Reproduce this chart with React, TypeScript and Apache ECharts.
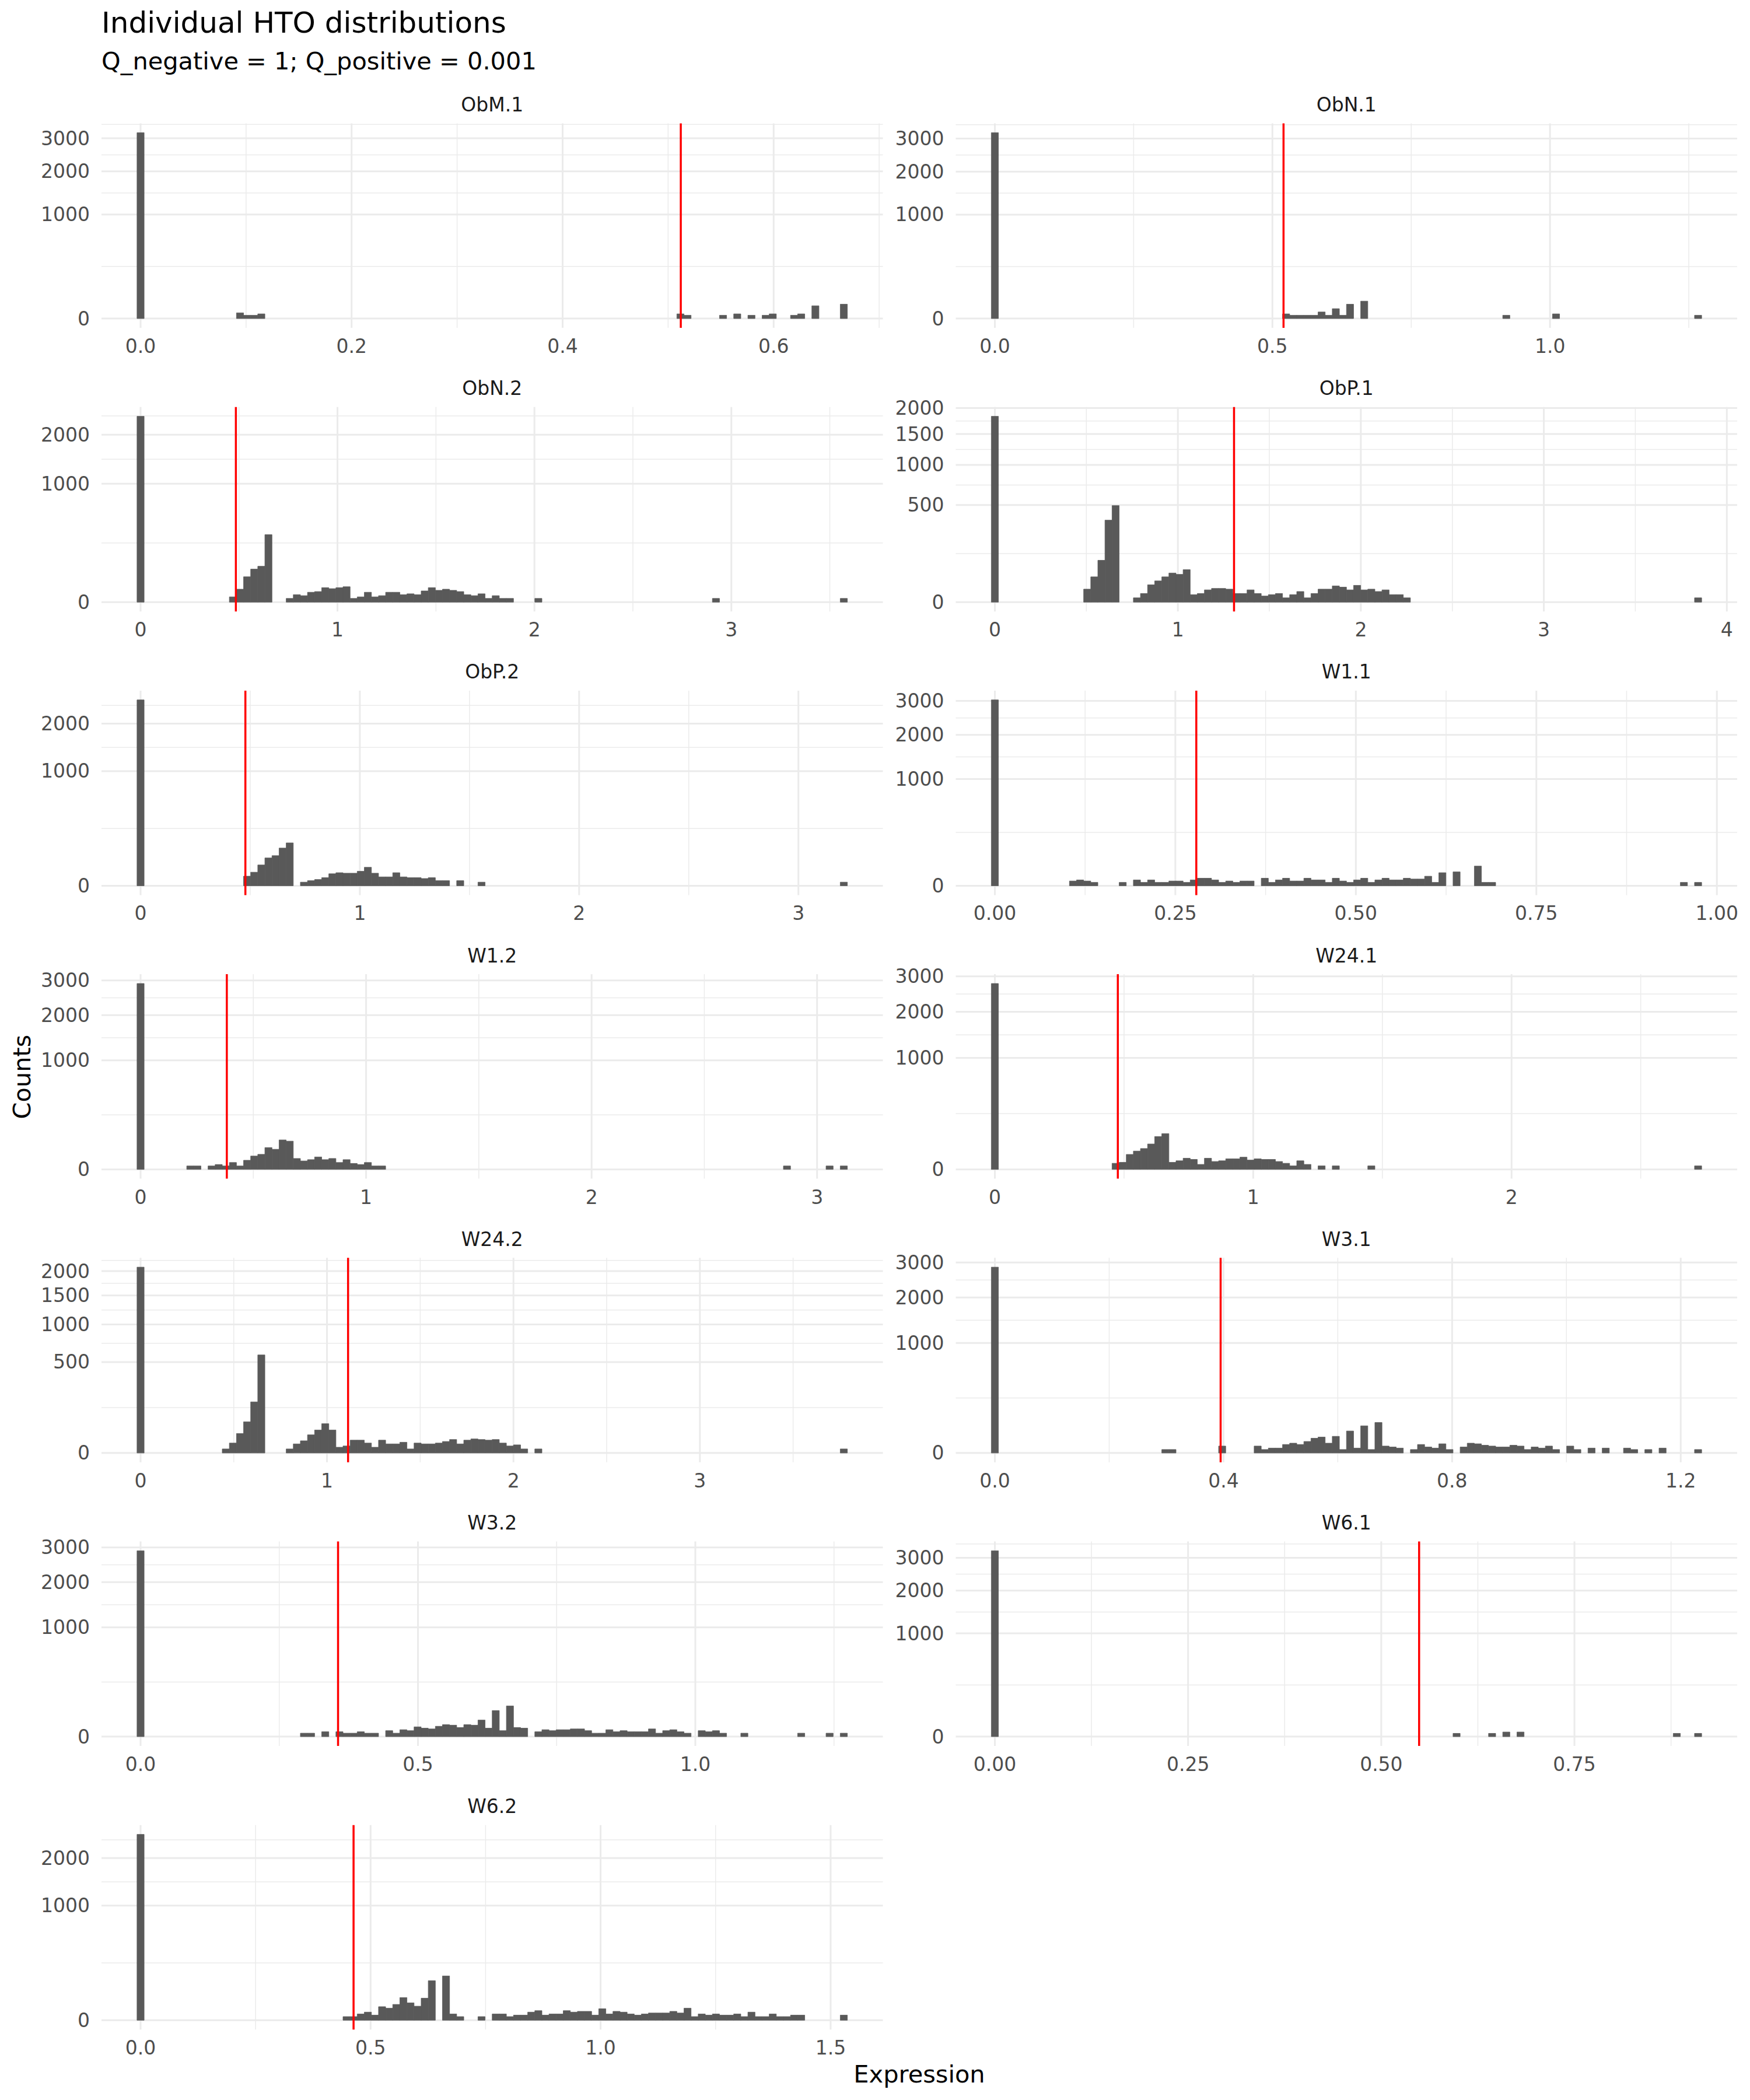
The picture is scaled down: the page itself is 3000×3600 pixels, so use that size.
import React, { useEffect, useRef } from "react";
import * as echarts from "echarts";

const FONT = "DejaVu Sans";

const PANEL_NAMES = ["ObM.1", "ObN.1", "ObN.2", "ObP.1", "ObP.2", "W1.1", "W1.2", "W24.1", "W24.2", "W3.1", "W3.2", "W6.1", "W6.2"];
// centre of the last (100th) histogram bin = maximum expression of each HTO
const X_MAX = [0.6665, 1.2668, 3.571, 3.843, 3.207, 0.974, 3.1185, 2.722, 3.772, 1.2304, 1.2677, 0.91, 1.5287];
const THRESHOLDS = [0.512, 0.52, 0.484, 1.307, 0.478, 0.279, 0.3825, 0.476, 1.113, 0.395, 0.356, 0.549, 0.463];
const X_TICKS = [
  ["0.0", "0.2", "0.4", "0.6"],
  ["0.0", "0.5", "1.0"],
  ["0", "1", "2", "3"],
  ["0", "1", "2", "3", "4"],
  ["0", "1", "2", "3"],
  ["0.00", "0.25", "0.50", "0.75", "1.00"],
  ["0", "1", "2", "3"],
  ["0", "1", "2"],
  ["0", "1", "2", "3"],
  ["0.0", "0.4", "0.8", "1.2"],
  ["0.0", "0.5", "1.0"],
  ["0.00", "0.25", "0.50", "0.75"],
  ["0.0", "0.5", "1.0", "1.5"],
];
const Y_TICKS = [
  ["0", "1000", "2000", "3000"],
  ["0", "1000", "2000", "3000"],
  ["0", "1000", "2000"],
  ["0", "500", "1000", "1500", "2000"],
  ["0", "1000", "2000"],
  ["0", "1000", "2000", "3000"],
  ["0", "1000", "2000", "3000"],
  ["0", "1000", "2000", "3000"],
  ["0", "500", "1000", "1500", "2000"],
  ["0", "1000", "2000", "3000"],
  ["0", "1000", "2000", "3000"],
  ["0", "1000", "2000", "3000"],
  ["0", "1000", "2000"],
];

// [bin index (0..99), count]
const BINS_OBM1 = [[0, 3190], [14, 3], [15, 1], [16, 1], [17, 2], [76, 2], [77, 1], [82, 1], [84, 2], [86, 1], [88, 1], [89, 2], [92, 1], [93, 2], [95, 15], [99, 19]];
const BINS_OBN1 = [[0, 3200], [41, 2], [42, 1], [43, 1], [44, 1], [45, 1], [46, 4], [47, 1], [48, 9], [49, 1], [50, 19], [52, 28], [72, 1], [79, 2], [99, 1]];
const BINS_OBN2 = [[0, 2466], [13, 2], [14, 12], [15, 46], [16, 78], [17, 92], [18, 325], [21, 1], [22, 4], [23, 3], [24, 7], [25, 8], [26, 15], [27, 13], [28, 15], [29, 17], [30, 1], [31, 2], [32, 7], [33, 2], [34, 3], [35, 7], [36, 7], [37, 4], [38, 5], [39, 4], [40, 9], [41, 15], [42, 10], [43, 12], [44, 10], [45, 8], [46, 4], [47, 3], [48, 5], [49, 1], [50, 3], [51, 1], [52, 1], [56, 1], [81, 1], [99, 1]];
const BINS_OBP1 = [[0, 1833], [13, 9], [14, 34], [15, 93], [16, 357], [17, 495], [20, 1], [21, 4], [22, 16], [23, 24], [24, 34], [25, 45], [26, 41], [27, 56], [28, 3], [29, 4], [30, 8], [31, 10], [32, 10], [33, 9], [34, 4], [35, 4], [36, 8], [37, 4], [38, 2], [39, 3], [40, 4], [41, 1], [42, 3], [43, 6], [44, 1], [45, 4], [46, 9], [47, 9], [48, 14], [49, 12], [50, 8], [51, 15], [52, 8], [53, 9], [54, 6], [55, 8], [56, 3], [57, 3], [58, 1], [99, 1]];
const BINS_OBP2 = [[0, 2628], [15, 7], [16, 14], [17, 33], [18, 59], [19, 69], [20, 108], [21, 140], [23, 1], [24, 2], [25, 3], [26, 5], [27, 11], [28, 13], [29, 12], [30, 12], [31, 16], [32, 26], [33, 12], [34, 6], [35, 6], [36, 13], [37, 6], [38, 5], [39, 5], [40, 4], [41, 5], [42, 2], [43, 2], [45, 2], [48, 1], [99, 1]];
const BINS_W11 = [[0, 3033], [11, 2], [12, 3], [13, 2], [14, 1], [18, 1], [20, 3], [21, 1], [22, 3], [23, 1], [24, 1], [25, 2], [26, 2], [27, 1], [28, 3], [29, 5], [30, 5], [31, 3], [32, 1], [33, 2], [34, 1], [35, 2], [36, 2], [38, 5], [39, 1], [40, 3], [41, 5], [42, 2], [43, 2], [44, 5], [45, 3], [46, 3], [47, 1], [48, 5], [49, 2], [50, 1], [51, 3], [52, 5], [53, 1], [54, 3], [55, 5], [56, 3], [57, 3], [58, 5], [59, 4], [60, 4], [61, 8], [62, 1], [63, 15], [65, 17], [68, 34], [69, 1], [70, 1], [97, 1], [99, 1]];
const BINS_W12 = [[0, 2903], [7, 1], [8, 1], [10, 1], [11, 2], [12, 1], [13, 4], [14, 1], [15, 7], [16, 15], [17, 19], [18, 40], [19, 34], [20, 73], [21, 67], [22, 10], [23, 6], [24, 8], [25, 13], [26, 8], [27, 10], [28, 4], [29, 8], [30, 3], [31, 2], [32, 4], [33, 1], [34, 1], [91, 1], [97, 1], [99, 1]];
const BINS_W241 = [[0, 2780], [17, 3], [18, 4], [19, 18], [20, 27], [21, 35], [22, 52], [23, 87], [24, 103], [25, 4], [26, 6], [27, 10], [28, 8], [29, 2], [30, 10], [31, 5], [32, 6], [33, 9], [34, 9], [35, 12], [36, 7], [37, 9], [38, 8], [39, 8], [40, 5], [41, 3], [42, 1], [43, 6], [44, 2], [46, 1], [48, 1], [53, 1], [99, 1]];
const BINS_W242 = [[0, 2089], [12, 1], [13, 6], [14, 23], [15, 59], [16, 158], [17, 582], [21, 1], [22, 5], [23, 9], [24, 20], [25, 32], [26, 52], [27, 32], [28, 2], [29, 3], [30, 10], [31, 10], [32, 6], [33, 2], [34, 10], [35, 5], [36, 5], [37, 7], [38, 1], [39, 6], [40, 5], [41, 5], [42, 6], [43, 8], [44, 11], [45, 5], [46, 10], [47, 12], [48, 11], [49, 10], [50, 11], [51, 6], [52, 3], [53, 4], [54, 1], [56, 1], [99, 1]];
const BINS_W31 = [[0, 2855], [24, 1], [25, 1], [32, 4], [37, 4], [38, 1], [39, 2], [40, 2], [41, 6], [42, 8], [43, 6], [44, 11], [45, 18], [46, 21], [47, 8], [48, 23], [49, 1], [50, 40], [51, 2], [52, 61], [53, 1], [54, 77], [55, 4], [56, 3], [57, 2], [59, 1], [60, 6], [61, 3], [62, 2], [63, 7], [64, 1], [66, 3], [67, 8], [68, 7], [69, 5], [70, 4], [71, 3], [72, 3], [73, 5], [74, 4], [75, 1], [76, 3], [77, 2], [78, 4], [79, 1], [81, 4], [82, 1], [84, 2], [86, 2], [89, 2], [90, 1], [92, 1], [94, 2], [99, 1]];
const BINS_W32 = [[0, 2896], [23, 1], [24, 1], [26, 2], [28, 2], [29, 1], [30, 1], [31, 2], [32, 1], [33, 1], [35, 3], [36, 1], [37, 4], [38, 3], [39, 8], [40, 6], [41, 5], [42, 9], [43, 12], [44, 11], [45, 7], [46, 12], [47, 11], [48, 23], [49, 6], [50, 57], [51, 3], [52, 79], [53, 7], [54, 6], [56, 2], [57, 4], [58, 3], [59, 4], [60, 4], [61, 5], [62, 5], [63, 3], [64, 1], [65, 1], [66, 4], [67, 2], [68, 3], [69, 2], [70, 2], [71, 2], [72, 5], [73, 1], [74, 3], [75, 4], [76, 2], [77, 1], [79, 3], [80, 2], [81, 3], [82, 1], [85, 1], [93, 1], [97, 1], [99, 1]];
const BINS_W61 = [[0, 3240], [65, 1], [70, 1], [72, 2], [74, 2], [96, 1], [99, 1]];
const BINS_W62 = [[0, 2626], [29, 1], [30, 1], [31, 3], [32, 5], [33, 2], [34, 14], [35, 11], [36, 19], [37, 39], [38, 23], [39, 15], [40, 37], [41, 119], [43, 149], [44, 3], [45, 1], [48, 1], [50, 3], [51, 3], [52, 1], [53, 2], [54, 2], [55, 5], [56, 7], [57, 2], [58, 3], [59, 3], [60, 7], [61, 5], [62, 6], [63, 6], [64, 2], [65, 10], [66, 3], [67, 6], [68, 5], [69, 3], [70, 2], [71, 3], [72, 4], [73, 4], [74, 4], [75, 6], [76, 4], [77, 11], [78, 1], [79, 3], [80, 2], [81, 3], [82, 2], [83, 2], [84, 3], [85, 1], [86, 5], [87, 1], [88, 1], [89, 3], [90, 1], [91, 1], [92, 2], [93, 2], [99, 2]];

const PANEL_BINS = [BINS_OBM1, BINS_OBN1, BINS_OBN2, BINS_OBP1, BINS_OBP2, BINS_W11, BINS_W12, BINS_W241, BINS_W242, BINS_W31, BINS_W32, BINS_W61, BINS_W62];

const TITLE = "Individual HTO distributions";
const SUBTITLE = "Q_negative = 1; Q_positive = 0.001";
const X_TITLE = "Expression";
const Y_TITLE = "Counts";

// layout (px)
const COL_LEFT = [174, 1638.5];
const PANEL_W = 1339.5;
const ROW_TOP0 = 211.5;
const ROW_PITCH = 486.2;
const PANEL_H = 350.5;

const GRID_COLOR = "#EBEBEB";
const BAR_COLOR = "#595959";

function midpoints(a: number[]) {
  const out: number[] = [];
  for (let i = 0; i < a.length - 1; i++) out.push((a[i] + a[i + 1]) / 2);
  return out;
}

export default function App() {
  const ref = useRef<HTMLDivElement>(null);
  useEffect(() => {
    document.body.style.margin = "0";
    const chart = echarts.init(ref.current!, null, { renderer: "svg" });
    const grids: any[] = [];
    const xAxes: any[] = [];
    const yAxes: any[] = [];
    const series: any[] = [];
    const graphics: any[] = [];

    PANEL_NAMES.forEach((name, i) => {
      const col = i % 2;
      const row = Math.floor(i / 2);
      const left = COL_LEFT[col];
      const top = ROW_TOP0 + row * ROW_PITCH;
      const w = X_MAX[i] / 99;
      const xlo = -5.5 * w;
      const xhi = 104.5 * w;
      const bins = PANEL_BINS[i];
      const maxCount = Math.max(...bins.map((b) => b[1]));
      const S = Math.sqrt(maxCount);
      const ylo = -0.05 * S;
      const yhi = 1.05 * S;

      const xt = X_TICKS[i].map((s) => parseFloat(s));
      const ytData = Y_TICKS[i].map((s) => parseFloat(s));
      const yt = ytData.map((v) => Math.sqrt(v));

      // grid lines (major + minor, ggplot style)
      const xStep = xt[1] - xt[0];
      const xExt = [xt[0] - xStep, ...xt, xt[xt.length - 1] + xStep];
      const xMinor = midpoints(xExt).filter((v) => v > xlo && v < xhi);
      const yStep = ytData[1] - ytData[0];
      const yExt = [...ytData, ytData[ytData.length - 1] + yStep].map((v) => Math.sqrt(v));
      const yMinor = midpoints(yExt).filter((v) => v > ylo && v < yhi);
      const gridData: number[][] = [];
      xMinor.forEach((v) => gridData.push([v, 1]));
      yMinor.forEach((v) => gridData.push([v, 3]));
      xt.filter((v) => v >= xlo && v <= xhi).forEach((v) => gridData.push([v, 0]));
      yt.filter((v) => v >= ylo && v <= yhi).forEach((v) => gridData.push([v, 2]));

      grids.push({ left, top, width: PANEL_W, height: PANEL_H, outerBoundsMode: "none", containLabel: false });
      xAxes.push({
        type: "value",
        gridIndex: i,
        min: xlo,
        max: xhi,
        axisLine: { show: false },
        axisTick: { show: false },
        splitLine: { show: false },
        axisLabel: {
          customValues: xt,
          formatter: (v: number) => {
            let best = 0;
            xt.forEach((t, j) => {
              if (Math.abs(t - v) < Math.abs(xt[best] - v)) best = j;
            });
            return X_TICKS[i][best];
          },
          color: "#4D4D4D",
          fontSize: 33,
          fontFamily: FONT,
          margin: 15,
        },
      });
      yAxes.push({
        type: "value",
        gridIndex: i,
        min: ylo,
        max: yhi,
        axisLine: { show: false },
        axisTick: { show: false },
        splitLine: { show: false },
        axisLabel: {
          customValues: yt,
          formatter: (v: number) => String(Math.round(v * v)),
          color: "#4D4D4D",
          fontSize: 33,
          fontFamily: FONT,
          margin: 20,
        },
      });

      series.push({
        type: "custom",
        name: name + "-grid",
        xAxisIndex: i,
        yAxisIndex: i,
        silent: true,
        z: 1,
        data: gridData,
        renderItem: (params: any, api: any) => {
          const v = api.value(0);
          const k = api.value(1);
          let p1, p2;
          if (k < 2) {
            p1 = api.coord([v, ylo]);
            p2 = api.coord([v, yhi]);
          } else {
            p1 = api.coord([xlo, v]);
            p2 = api.coord([xhi, v]);
          }
          return {
            type: "line",
            shape: { x1: p1[0], y1: p1[1], x2: p2[0], y2: p2[1] },
            style: { stroke: GRID_COLOR, lineWidth: k % 2 === 0 ? 3 : 1.5 },
          };
        },
      });

      series.push({
        type: "custom",
        name: name,
        xAxisIndex: i,
        yAxisIndex: i,
        silent: true,
        z: 2,
        data: bins.map(([k, c]) => [k * w, c]),
        renderItem: (params: any, api: any) => {
          const c = api.value(0);
          const n = api.value(1);
          const p0 = api.coord([c - w / 2, 0]);
          const p1 = api.coord([c + w / 2, Math.sqrt(n)]);
          return {
            type: "rect",
            shape: { x: p0[0], y: p1[1], width: p1[0] - p0[0], height: p0[1] - p1[1] },
            style: { fill: BAR_COLOR, stroke: BAR_COLOR, lineWidth: 0.8 },
          };
        },
      });

      series.push({
        type: "custom",
        name: name + "-threshold",
        xAxisIndex: i,
        yAxisIndex: i,
        silent: true,
        z: 3,
        data: [[THRESHOLDS[i], 0]],
        renderItem: (params: any, api: any) => {
          const t = api.value(0);
          const p1 = api.coord([t, ylo]);
          const p2 = api.coord([t, yhi]);
          return {
            type: "line",
            shape: { x1: p1[0], y1: p1[1], x2: p2[0], y2: p2[1] },
            style: { stroke: "#FF0000", lineWidth: 3.5 },
          };
        },
      });

      graphics.push({
        type: "text",
        x: left + PANEL_W / 2,
        y: top - 32,
        style: {
          text: name,
          fontSize: 33,
          fontFamily: FONT,
          fill: "#1A1A1A",
          align: "center",
          verticalAlign: "middle",
          textAlign: "center",
          textVerticalAlign: "middle",
        },
      });
    });

    graphics.push(
      {
        type: "text",
        x: 174,
        y: 39,
        style: { text: TITLE, fontSize: 50, fontFamily: FONT, fill: "#000000", align: "left", verticalAlign: "middle", textAlign: "left", textVerticalAlign: "middle" },
      },
      {
        type: "text",
        x: 174,
        y: 104,
        style: { text: SUBTITLE, fontSize: 41.5, fontFamily: FONT, fill: "#000000", align: "left", verticalAlign: "middle", textAlign: "left", textVerticalAlign: "middle" },
      },
      {
        type: "text",
        x: 1576,
        y: 3555,
        style: { text: X_TITLE, fontSize: 41.5, fontFamily: FONT, fill: "#000000", align: "center", verticalAlign: "middle", textAlign: "center", textVerticalAlign: "middle" },
      },
      {
        type: "text",
        x: 37.5,
        y: 1846,
        rotation: Math.PI / 2,
        style: { text: Y_TITLE, fontSize: 41.5, fontFamily: FONT, fill: "#000000", align: "center", verticalAlign: "middle", textAlign: "center", textVerticalAlign: "middle" },
      }
    );

    chart.setOption({
      animation: false,
      backgroundColor: "#FFFFFF",
      textStyle: { fontFamily: FONT },
      grid: grids,
      xAxis: xAxes,
      yAxis: yAxes,
      series,
      graphic: graphics,
    });
    return () => chart.dispose();
  }, []);
  return <div ref={ref} style={{ width: 3000, height: 3600 }} />;
}
